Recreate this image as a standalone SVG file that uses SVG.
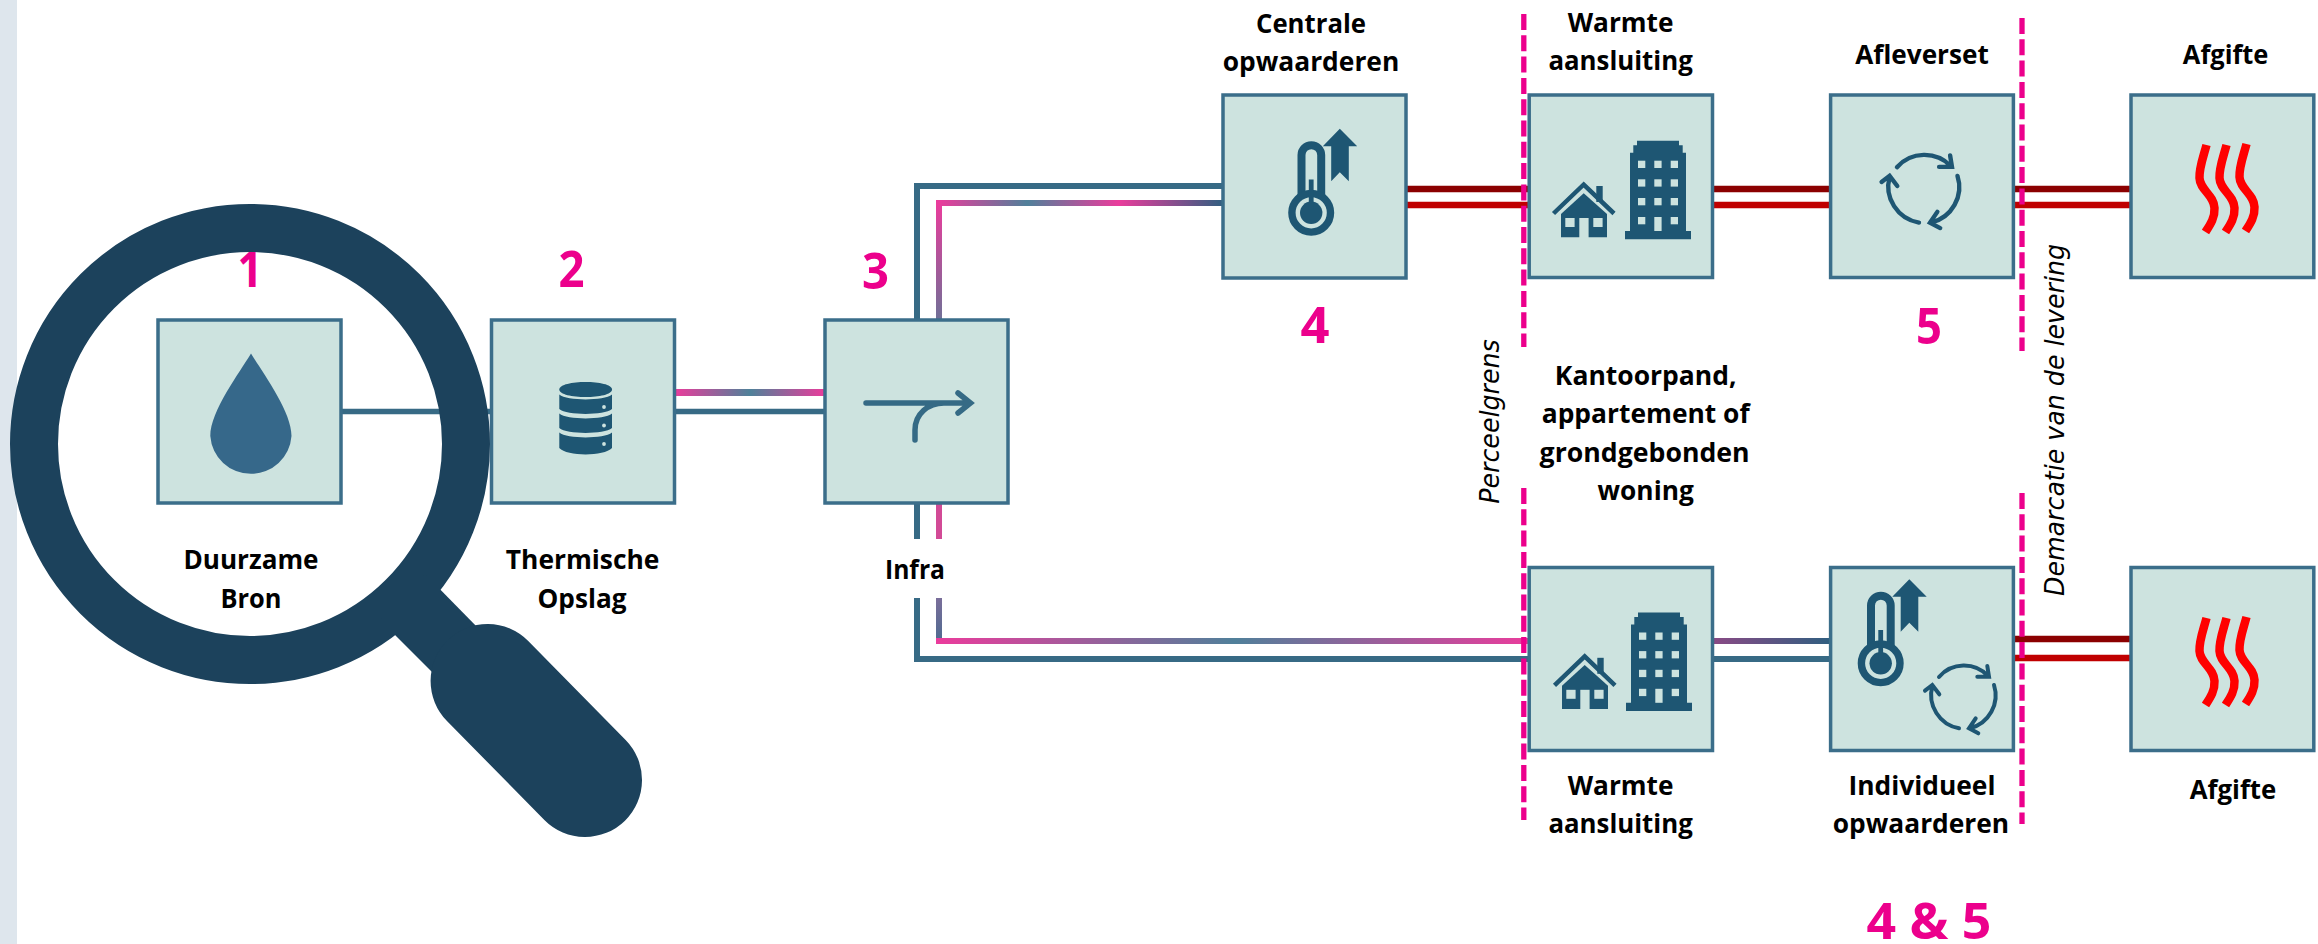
<svg xmlns="http://www.w3.org/2000/svg" xmlns:xlink="http://www.w3.org/1999/xlink" width="2318" height="944" viewBox="0 0 2318 944">
<style>
.box{fill:#cde3df;stroke:#3b6e8a;stroke-width:3.5}
.lbl{font-family:"Open Sans","Noto Sans","Liberation Sans",sans-serif;font-weight:700;font-size:27px;fill:#000;text-anchor:middle}
.num{font-family:"Open Sans","Noto Sans","Liberation Sans",sans-serif;font-weight:700;font-size:51px;fill:#ec008c;text-anchor:middle}
.side{font-family:"DejaVu Sans","Liberation Sans",sans-serif;font-style:oblique;font-size:26px;fill:#000;text-anchor:middle}
.pipe{fill:none;stroke:#376a85;stroke-width:6}
.pipe5{fill:none;stroke-width:7}
.dk{stroke:#8b0000;stroke-width:6.5;fill:none}
.rd{stroke:#c00000;stroke-width:6.5;fill:none}
.dash{stroke:#ec008c;stroke-width:5.3;stroke-dasharray:16 5.3;fill:none}
.ico{fill:#1e5673}
.win{fill:#cde3df}
.cy{fill:none;stroke:#1e5673;stroke-width:4;stroke-linecap:round;stroke-linejoin:miter}
.heat{fill:none;stroke:#ff0000;stroke-width:8.5}
</style>
<defs>
<linearGradient id="gStore" gradientUnits="userSpaceOnUse" x1="675" y1="0" x2="825" y2="0"><stop offset="0" stop-color="#ea3c9c"/><stop offset=".5" stop-color="#4f8199"/><stop offset="1" stop-color="#ea3c9c"/></linearGradient>
<linearGradient id="gUpV" gradientUnits="userSpaceOnUse" x1="0" y1="203" x2="0" y2="320"><stop offset="0" stop-color="#ea3c9c"/><stop offset="1" stop-color="#6f7097"/></linearGradient>
<linearGradient id="gUpH" gradientUnits="userSpaceOnUse" x1="939" y1="0" x2="1224" y2="0"><stop offset="0" stop-color="#ea3c9c"/><stop offset=".31" stop-color="#50809a"/><stop offset=".63" stop-color="#ea3c9c"/><stop offset="1" stop-color="#2f5f80"/></linearGradient>
<linearGradient id="gLoV" gradientUnits="userSpaceOnUse" x1="0" y1="598" x2="0" y2="641"><stop offset="0" stop-color="#7a6e9a"/><stop offset="1" stop-color="#4f6a90"/></linearGradient>
<linearGradient id="gLoH" gradientUnits="userSpaceOnUse" x1="939" y1="0" x2="1530" y2="0"><stop offset="0" stop-color="#ea3c9c"/><stop offset=".5" stop-color="#50809a"/><stop offset="1" stop-color="#ea3c9c"/></linearGradient>
<linearGradient id="gAft" gradientUnits="userSpaceOnUse" x1="1713" y1="0" x2="1831" y2="0"><stop offset="0" stop-color="#8a4a85"/><stop offset="1" stop-color="#2f5f80"/></linearGradient>
<g id="thermo">
<path d="M1871,647V605.5A9.85,9.85 0 0 1 1890.7,605.5V647" fill="none" stroke="#1e5673" stroke-width="8"/>
<circle cx="1880.7" cy="663.3" r="19.3" fill="none" stroke="#1e5673" stroke-width="7.4"/>
<circle cx="1880.7" cy="663.3" r="11.2" class="ico"/>
<rect x="1878.3" y="630" width="4.8" height="30" class="ico"/>
<path class="ico" d="M1909.3,579.3L1926.7,596.7H1918.3V631.7L1909.3,622.7L1900.7,631.7V596.7H1892.3Z"/>
</g>
<g id="cycle">
<path class="cy" d="M1939,677A33,33 0 0 1 1988,676M1987.3,666L1989,676.7H1977.3"/>
<path class="cy" d="M1994,685A34,34 0 0 1 1970,728.3M1975.7,718.3L1969,728.3L1978.3,733.3"/>
<path class="cy" d="M1959,728.3A34,34 0 0 1 1932.3,686M1925,690.7L1932.3,685L1939.3,694.3"/>
</g>
<g id="houses">
<path class="ico" d="M1625,231H1630V152.7H1633.3V145.3H1637V140.7H1679V145.3H1682.7V152.7H1686V231H1691V239.3H1625Z"/>
<g class="win">
<rect x="1638" y="160.7" width="7.3" height="7.3"/><rect x="1654.3" y="160.7" width="7.3" height="7.3"/><rect x="1670.7" y="160.7" width="7.3" height="7.3"/>
<rect x="1638" y="179.3" width="7.3" height="7.3"/><rect x="1654.3" y="179.3" width="7.3" height="7.3"/><rect x="1670.7" y="179.3" width="7.3" height="7.3"/>
<rect x="1638" y="198" width="7.3" height="7.3"/><rect x="1654.3" y="198" width="7.3" height="7.3"/><rect x="1670.7" y="198" width="7.3" height="7.3"/>
<rect x="1638" y="217" width="7.3" height="7.3"/><rect x="1654.3" y="217" width="7.3" height="14"/><rect x="1670.7" y="217" width="7.3" height="7.3"/>
</g>
<path d="M1553.5,213.5L1583.7,184.5L1614,213.5" fill="none" stroke="#1e5673" stroke-width="4.5"/>
<rect x="1596.3" y="186" width="6.4" height="16" class="ico"/>
<path class="ico" d="M1583.7,193.3L1607,214V237.3H1561V214Z"/>
<rect x="1565.3" y="218" width="9.3" height="9" class="win"/><rect x="1593.3" y="218" width="9.3" height="9" class="win"/><rect x="1579.3" y="218" width="9.3" height="20" class="win"/>
</g>
<g id="heat">
<path class="heat" d="M2206.5,145C2203,158 2199,168 2199.5,178C2200,190 2214,195 2214.5,208C2215,218 2210,225 2205.5,232"/>
<path class="heat" d="M2226.5,145C2223,158 2219,168 2219.5,178C2220,190 2234,195 2234.5,208C2235,218 2230,225 2225.5,232"/>
<path class="heat" d="M2246.5,144C2243,157 2239,167 2239.5,177C2240,189 2254,194 2254.5,207C2255,217 2250,224 2245.5,231"/>
</g>
</defs>
<rect x="0" y="0" width="17" height="944" fill="#dee6ed"/>
<g id="connectors">
<path class="pipe" style="stroke-width:5.5" d="M341,411.5H492"/>
<path class="pipe5" stroke="url(#gStore)" d="M675,392.5H825"/>
<path class="pipe" style="stroke-width:5.5" d="M675,411.5H825"/>
<path class="pipe" d="M917,320V186H1224"/>
<path class="pipe5" stroke="url(#gUpV)" style="stroke-width:6" d="M939,320V203"/>
<path class="pipe5" stroke="url(#gUpH)" style="stroke-width:6" d="M936,203H1224"/>
<path class="pipe" d="M917,503V539"/>
<path class="pipe5" stroke="#d24a96" style="stroke-width:6" d="M939,503V539"/>
<path class="pipe" d="M917,598V659H1530"/>
<path class="pipe5" stroke="url(#gLoV)" style="stroke-width:6" d="M939,598V641"/>
<path class="pipe5" stroke="url(#gLoH)" style="stroke-width:6" d="M936,641H1530"/>
<path class="dk" d="M1406,189H1530M1713,189H1831M2013,189H2131"/>
<path class="rd" d="M1406,205H1530M1713,205H1831M2013,205H2131"/>
<path class="pipe5" stroke="url(#gAft)" style="stroke-width:6" d="M1713,641H1831"/>
<path class="pipe" d="M1713,659H1831"/>
<path class="dk" d="M2013,639H2131"/>
<path class="rd" d="M2013,658H2131"/>
</g>
<g id="node-bron">
<rect class="box" x="158" y="320" width="183" height="183"/>
<path fill="#36688a" d="M251,353.500C262,372 291.500,411 291.500,436A40.700,40.700 0 0 1 210.300,436C210.300,411 240,372 251,353.500Z"/>
<text class="lbl" x="251" y="569" textLength="135" lengthAdjust="spacingAndGlyphs">Duurzame</text>
<text class="lbl" x="251" y="608" textLength="61" lengthAdjust="spacingAndGlyphs">Bron</text>
<text class="num" x="250" y="287" textLength="25" lengthAdjust="spacingAndGlyphs">1</text>
</g>
<g id="node-opslag">
<rect class="box" x="491.500" y="320" width="183" height="183"/>
<path class="ico" d="M559.300,389.500C559.300,379.500 612,379.500 612,389.500C612,399.500 559.300,399.500 559.300,389.500Z"/>
<path class="ico" d="M559.300,394.500C567,401 604,401 612,394.500V409C604,415.500 567,415.500 559.300,409Z"/>
<path class="ico" d="M559.300,413.500C567,420 604,420 612,413.500V428C604,434.500 567,434.500 559.300,428Z"/>
<path class="ico" d="M559.300,432.500C567,439 604,439 612,432.500V448C604,456.500 567,456.500 559.300,448Z"/>
<circle class="win" cx="604" cy="407" r="1.900"/><circle class="win" cx="604" cy="425.500" r="1.900"/><circle class="win" cx="604" cy="444" r="1.900"/>
<text class="lbl" x="582.600" y="569" textLength="153.600" lengthAdjust="spacingAndGlyphs">Thermische</text>
<text class="lbl" x="582" y="608" textLength="89" lengthAdjust="spacingAndGlyphs">Opslag</text>
<text class="num" x="571.400" y="287" textLength="26" lengthAdjust="spacingAndGlyphs">2</text>
</g>
<g id="node-infra">
<rect class="box" x="825" y="320" width="183" height="183"/>
<path d="M866,403H970M958,393L970.500,403L958,413M915,440V430C915,414 928,403 944,403" fill="none" stroke="#356a85" stroke-width="5.500" stroke-linecap="round"/>
<text class="lbl" x="915" y="578.500" textLength="60" lengthAdjust="spacingAndGlyphs">Infra</text>
<text class="num" x="875.500" y="289" textLength="27" lengthAdjust="spacingAndGlyphs">3</text>
</g>
<g id="node-centrale">
<rect class="box" x="1223" y="95" width="183" height="183"/>
<use xlink:href="#thermo" href="#thermo" transform="translate(-569.500,-450.500)"/>
<text class="lbl" x="1311" y="32.500" textLength="110" lengthAdjust="spacingAndGlyphs">Centrale</text>
<text class="lbl" x="1311" y="70.500" textLength="176.600" lengthAdjust="spacingAndGlyphs">opwaarderen</text>
<text class="num" x="1315" y="343" textLength="29" lengthAdjust="spacingAndGlyphs">4</text>
</g>
<g id="node-aansluiting-boven">
<rect class="box" x="1529.200" y="95" width="183.300" height="182.500"/>
<use xlink:href="#houses" href="#houses"/>
<text class="lbl" x="1620.600" y="32" textLength="105.800" lengthAdjust="spacingAndGlyphs">Warmte</text>
<text class="lbl" x="1620.600" y="70" textLength="144.300" lengthAdjust="spacingAndGlyphs">aansluiting</text>
</g>
<g id="node-afleverset">
<rect class="box" x="1830.600" y="95" width="182.800" height="182.500"/>
<use xlink:href="#cycle" href="#cycle" transform="translate(1920.400,191) scale(1.100,1.080) translate(-1960.300,-699)"/>
<text class="lbl" x="1922" y="64" textLength="133.600" lengthAdjust="spacingAndGlyphs">Afleverset</text>
<text class="num" x="1929" y="344" textLength="26" lengthAdjust="spacingAndGlyphs">5</text>
</g>
<g id="node-afgifte-boven">
<rect class="box" x="2131" y="95" width="182.800" height="182.500"/>
<use xlink:href="#heat" href="#heat"/>
<text class="lbl" x="2225.600" y="64" textLength="85.500" lengthAdjust="spacingAndGlyphs">Afgifte</text>
</g>
<g id="label-kantoorpand">
<text class="lbl" x="1645.700" y="385" textLength="181.700" lengthAdjust="spacingAndGlyphs">Kantoorpand,</text>
<text class="lbl" x="1645.700" y="423" textLength="207.900" lengthAdjust="spacingAndGlyphs">appartement of</text>
<text class="lbl" x="1644.600" y="462" textLength="210" lengthAdjust="spacingAndGlyphs">grondgebonden</text>
<text class="lbl" x="1645.700" y="500" textLength="96.200" lengthAdjust="spacingAndGlyphs">woning</text>
</g>
<g id="node-aansluiting-onder">
<rect class="box" x="1529.200" y="567.500" width="183.300" height="183"/>
<use xlink:href="#houses" href="#houses" transform="translate(1,471.800)"/>
<text class="lbl" x="1620.600" y="795" textLength="105.800" lengthAdjust="spacingAndGlyphs">Warmte</text>
<text class="lbl" x="1620.600" y="833" textLength="144.300" lengthAdjust="spacingAndGlyphs">aansluiting</text>
</g>
<g id="node-individueel">
<rect class="box" x="1830.600" y="567.500" width="182.800" height="183"/>
<use xlink:href="#thermo" href="#thermo"/>
<use xlink:href="#cycle" href="#cycle"/>
<text class="lbl" x="1922" y="795" textLength="147" lengthAdjust="spacingAndGlyphs">Individueel</text>
<text class="lbl" x="1921" y="833" textLength="176.400" lengthAdjust="spacingAndGlyphs">opwaarderen</text>
<text class="num" x="1929" y="939" textLength="125" lengthAdjust="spacingAndGlyphs">4 &amp; 5</text>
</g>
<g id="node-afgifte-onder">
<rect class="box" x="2131" y="567.500" width="182.800" height="183"/>
<use xlink:href="#heat" href="#heat" transform="translate(0,473)"/>
<text class="lbl" x="2233" y="799" textLength="86.600" lengthAdjust="spacingAndGlyphs">Afgifte</text>
</g>
<g id="grenzen">
<path class="dash" d="M1523.800,14V347M1523.800,488V820M2022,18V351M2022,493V824"/>
<text class="side" transform="translate(1499,421.500) rotate(-90)" textLength="164.500" lengthAdjust="spacingAndGlyphs">Perceelgrens</text>
<text class="side" transform="translate(2063.600,420) rotate(-90)" textLength="352" lengthAdjust="spacingAndGlyphs">Demarcatie van de levering</text>
</g>
<g id="loep" fill="#1c425c">
<circle cx="250" cy="444" r="216" fill="none" stroke="#1c425c" stroke-width="48"/>
<path d="M425,574L480,630L435,675L380,620Z"/>
<path d="M487.600,681L585,780" stroke="#1c425c" stroke-width="114" stroke-linecap="round"/>
</g>
</svg>
